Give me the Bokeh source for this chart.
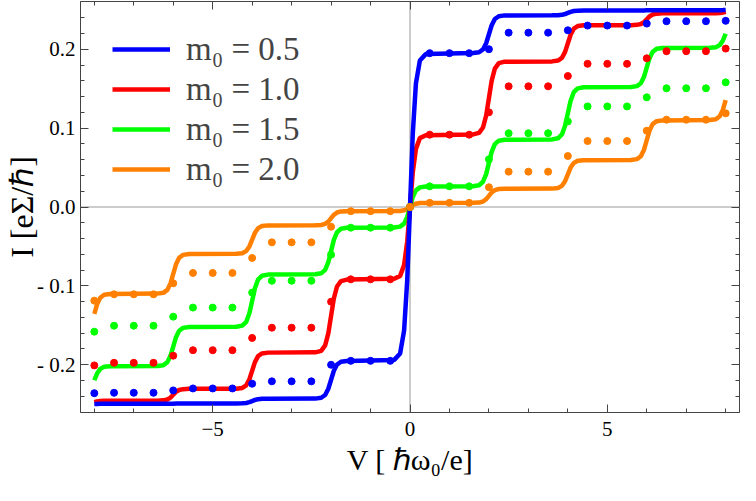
from bokeh.plotting import figure
from bokeh.models import (Range1d, SingleIntervalTicker, LinearAxis, CustomJSTickFormatter,
                          Span, Legend, LegendItem)
from bokeh.embed import file_html
from bokeh.resources import INLINE

# ---------------- data ----------------
V_LINE = [-8.0, -7.93, -7.85, -7.75, -7.6, -6.4, -6.25, -6.15, -6.07, -6.0, -5.93, -5.85, -5.75, -5.6,
          -4.4, -4.25, -4.15, -4.07, -4.0, -3.93, -3.85, -3.75, -3.6, -2.4, -2.25, -2.15, -2.07, -2.0,
          -1.93, -1.85, -1.75, -1.6, -0.4, -0.25, -0.15, -0.07,
          0.0, 0.07, 0.15, 0.25, 0.4, 1.6, 1.75, 1.85, 1.93, 2.0, 2.07, 2.15, 2.25, 2.4,
          3.6, 3.75, 3.85, 3.93, 4.0, 4.07, 4.15, 4.25, 4.4, 5.6, 5.75, 5.85, 5.93, 6.0,
          6.07, 6.15, 6.25, 6.4, 7.6, 7.75, 7.85, 7.93, 8.0]

I_LINE_05 = [-0.2497, -0.2496, -0.2495, -0.2495, -0.2495, -0.2495, -0.2495, -0.2495, -0.2494, -0.2493,
             -0.2491, -0.249, -0.249, -0.249, -0.249, -0.2489, -0.2484, -0.2474, -0.246, -0.2446,
             -0.2436, -0.2431, -0.2430, -0.2429, -0.2418, -0.2383, -0.2304, -0.219, -0.2076, -0.1997,
             -0.1962, -0.1951, -0.1938, -0.1856, -0.1568, -0.0928,
             0.0, 0.0928, 0.1568, 0.1856, 0.1938, 0.1951, 0.1962, 0.1997, 0.2076, 0.219,
             0.2304, 0.2383, 0.2418, 0.2429, 0.2430, 0.2431, 0.2436, 0.2446, 0.246, 0.2474,
             0.2484, 0.2489, 0.249, 0.249, 0.249, 0.249, 0.2491, 0.2493, 0.2494, 0.2495,
             0.2495, 0.2495, 0.2495, 0.2495, 0.2495, 0.2496, 0.2497]

I_LINE_10 = [-0.2475, -0.2465, -0.2459, -0.2456, -0.2455, -0.2455, -0.2451, -0.2440, -0.2416, -0.2380,
             -0.2344, -0.2320, -0.2309, -0.2305, -0.2304, -0.2294, -0.2260, -0.2184, -0.2075, -0.1966,
             -0.1890, -0.1856, -0.1846, -0.1842, -0.1823, -0.1754, -0.1602, -0.1381, -0.1160, -0.1008,
             -0.0939, -0.0920, -0.0911, -0.0873, -0.0737, -0.0437,
             0.0, 0.0437, 0.0737, 0.0873, 0.0911, 0.0920, 0.0939, 0.1008, 0.1160, 0.1381,
             0.1602, 0.1754, 0.1823, 0.1842, 0.1846, 0.1856, 0.1890, 0.1966, 0.2075, 0.2184,
             0.2260, 0.2294, 0.2304, 0.2305, 0.2309, 0.2320, 0.2344, 0.2380, 0.2416, 0.2440,
             0.2451, 0.2455, 0.2455, 0.2456, 0.2459, 0.2465, 0.2475]

I_LINE_15 = [-0.2196, -0.2111, -0.2052, -0.2026, -0.2018, -0.2016, -0.2005, -0.1968, -0.1887, -0.1769,
             -0.1650, -0.1569, -0.1532, -0.1521, -0.1518, -0.1504, -0.1455, -0.1346, -0.1188, -0.1029,
             -0.0920, -0.0871, -0.0857, -0.0853, -0.0841, -0.0797, -0.0700, -0.0559, -0.0417, -0.0320,
             -0.0276, -0.0264, -0.0260, -0.0249, -0.0211, -0.0125,
             0.0, 0.0125, 0.0211, 0.0249, 0.0260, 0.0264, 0.0276, 0.0320, 0.0417, 0.0559,
             0.0700, 0.0797, 0.0841, 0.0853, 0.0857, 0.0871, 0.0920, 0.1029, 0.1188, 0.1346,
             0.1455, 0.1504, 0.1518, 0.1521, 0.1532, 0.1569, 0.1650, 0.1769, 0.1887, 0.1968,
             0.2005, 0.2016, 0.2018, 0.2026, 0.2052, 0.2111, 0.2196]

I_LINE_20 = [-0.1355, -0.1234, -0.1150, -0.1112, -0.1102, -0.1098, -0.1088, -0.1051, -0.0968, -0.0848,
             -0.0727, -0.0644, -0.0607, -0.0597, -0.0594, -0.0586, -0.0559, -0.0500, -0.0414, -0.0327,
             -0.0268, -0.0241, -0.0233, -0.0231, -0.0228, -0.0214, -0.0185, -0.0142, -0.0099, -0.0070,
             -0.0056, -0.0053, -0.0052, -0.0050, -0.0042, -0.0025,
             0.0, 0.0025, 0.0042, 0.0050, 0.0052, 0.0053, 0.0056, 0.0070, 0.0099, 0.0142,
             0.0185, 0.0214, 0.0228, 0.0231, 0.0233, 0.0241, 0.0268, 0.0327, 0.0414, 0.0500,
             0.0559, 0.0586, 0.0594, 0.0597, 0.0607, 0.0644, 0.0727, 0.0848, 0.0968, 0.1051,
             0.1088, 0.1098, 0.1102, 0.1112, 0.1150, 0.1234, 0.1355]

V_DOT = [-8.0, -7.5, -7.0, -6.5, -6.0, -5.5, -5.0, -4.5, -4.0, -3.5, -3.0, -2.5, -2.0, -1.5, -1.0, -0.5,
         0.0, 0.5, 1.0, 1.5, 2.0, 2.5, 3.0, 3.5, 4.0, 4.5, 5.0, 5.5, 6.0, 6.5, 7.0, 7.5, 8.0]

I_DOT_05 = [-0.236, -0.2355, -0.2355, -0.2355, -0.2325, -0.230, -0.230, -0.230, -0.224, -0.221, -0.221,
            -0.221, -0.200, -0.195, -0.195, -0.195,
            0.0, 0.195, 0.195, 0.195, 0.200, 0.221, 0.221, 0.221, 0.224, 0.230, 0.230, 0.230,
            0.2325, 0.2355, 0.2355, 0.2355, 0.236]

I_DOT_10 = [-0.2008, -0.1975, -0.1975, -0.1975, -0.1885, -0.1815, -0.1815, -0.1815, -0.166, -0.153,
            -0.153, -0.153, -0.120, -0.0917, -0.0917, -0.0917,
            0.0, 0.0917, 0.0917, 0.0917, 0.120, 0.153, 0.153, 0.153, 0.166, 0.1815, 0.1815, 0.1815,
            0.1885, 0.1975, 0.1975, 0.1975, 0.2008]

I_DOT_15 = [-0.158, -0.1505, -0.1505, -0.1505, -0.139, -0.1275, -0.1275, -0.1275, -0.1085, -0.0935,
            -0.0935, -0.0935, -0.0604, -0.0262, -0.0262, -0.0262,
            0.0, 0.0262, 0.0262, 0.0262, 0.0604, 0.0935, 0.0935, 0.0935, 0.1085, 0.1275, 0.1275,
            0.1275, 0.139, 0.1505, 0.1505, 0.1505, 0.158]

I_DOT_20 = [-0.1187, -0.1107, -0.1107, -0.1107, -0.0967, -0.0836, -0.0836, -0.0836, -0.0646, -0.0448,
            -0.0448, -0.0448, -0.025, -0.0053, -0.0053, -0.0053,
            0.0, 0.0053, 0.0053, 0.0053, 0.025, 0.0448, 0.0448, 0.0448, 0.0646, 0.0836, 0.0836,
            0.0836, 0.0967, 0.1107, 0.1107, 0.1107, 0.1187]

LEGEND_LABELS = ["m\u2080 = 0.5", "m\u2080 = 1.0", "m\u2080 = 1.5", "m\u2080 = 2.0"]
X_TITLE = "V [ \u210f\u03c9\u2080/e]"
Y_TITLE = "I [e\u03a3/\u210f]"

# ---------------- style ----------------
BLUE, RED, GREEN, ORANGE = "#0000FF", "#FF0000", "#00FF00", "#FF8000"
FRAME = "#444444"
FONT = "Liberation Serif"

p = figure(width=740, height=485, output_backend="svg", toolbar_location=None,
           x_range=Range1d(-8.35, 8.35), y_range=Range1d(-0.2605, 0.2605),
           x_axis_type=None, y_axis_type=None,
           min_border_left=80, min_border_right=1, min_border_top=1, min_border_bottom=73)
p.outline_line_color = FRAME
p.outline_line_width = 1
p.background_fill_color = "white"
p.border_fill_color = "white"

xt = SingleIntervalTicker(interval=5, num_minor_ticks=5)
yt = SingleIntervalTicker(interval=0.1, num_minor_ticks=5)

x_fmt = CustomJSTickFormatter(code="return tick < -1e-9 ? '\u2212' + (-tick).toFixed(0) : Math.abs(tick).toFixed(0);")
y_fmt = CustomJSTickFormatter(code="return tick < -1e-9 ? '- ' + (-tick).toFixed(1) : Math.abs(tick).toFixed(1);")
blank = CustomJSTickFormatter(code="return '';")


def style_axis(ax):
    ax.axis_line_color = None
    ax.major_tick_line_color = FRAME
    ax.minor_tick_line_color = FRAME
    ax.major_tick_in = 8
    ax.major_tick_out = 0
    ax.minor_tick_in = 4
    ax.minor_tick_out = 0
    ax.major_label_text_font = FONT
    ax.major_label_text_font_size = "21px"
    ax.major_label_text_color = "black"
    ax.axis_label_text_font = FONT
    ax.axis_label_text_font_style = "normal"
    ax.axis_label_text_color = "black"


ax_b = LinearAxis(ticker=xt, formatter=x_fmt, axis_label=X_TITLE)
style_axis(ax_b)
ax_b.axis_label_text_font_size = "30px"
ax_b.major_label_standoff = 9
ax_b.axis_label_standoff = 4

ax_t = LinearAxis(ticker=xt, formatter=blank)
style_axis(ax_t)
ax_t.major_label_standoff = 0

ax_l = LinearAxis(ticker=yt, formatter=y_fmt, axis_label=Y_TITLE)
style_axis(ax_l)
ax_l.axis_label_text_font_size = "32px"
ax_l.major_label_standoff = 5
ax_l.axis_label_standoff = -6

ax_r = LinearAxis(ticker=yt, formatter=blank)
style_axis(ax_r)
ax_r.major_label_standoff = 0

p.add_layout(ax_b, "below")
p.add_layout(ax_t, "above")
p.add_layout(ax_l, "left")
p.add_layout(ax_r, "right")

p.add_layout(Span(location=0, dimension="width", line_color="#999999", line_width=1, level="underlay"))
p.add_layout(Span(location=0, dimension="height", line_color="#999999", line_width=1, level="underlay"))

LW = 4.5
r20 = p.line(V_LINE, I_LINE_20, line_color=ORANGE, line_width=LW)
r15 = p.line(V_LINE, I_LINE_15, line_color=GREEN, line_width=LW)
r10 = p.line(V_LINE, I_LINE_10, line_color=RED, line_width=LW)
r05 = p.line(V_LINE, I_LINE_05, line_color=BLUE, line_width=LW)

DS = 7
p.scatter(V_DOT, I_DOT_05, size=DS, color=BLUE)
p.scatter(V_DOT, I_DOT_10, size=DS, color=RED)
p.scatter(V_DOT, I_DOT_15, size=DS, color=GREEN)
p.scatter(V_DOT, I_DOT_20, size=DS, color=ORANGE)

legend = Legend(items=[LegendItem(label=LEGEND_LABELS[0], renderers=[r05]),
                       LegendItem(label=LEGEND_LABELS[1], renderers=[r10]),
                       LegendItem(label=LEGEND_LABELS[2], renderers=[r15]),
                       LegendItem(label=LEGEND_LABELS[3], renderers=[r20])],
                location=(32, 224), margin=0, padding=0, spacing=2,
                glyph_width=58, glyph_height=38, label_height=38, label_standoff=16,
                label_text_font=FONT, label_text_font_size="33px",
                border_line_color=None, background_fill_alpha=0)
p.add_layout(legend)

open("out.html", "w").write(file_html(p, INLINE))
